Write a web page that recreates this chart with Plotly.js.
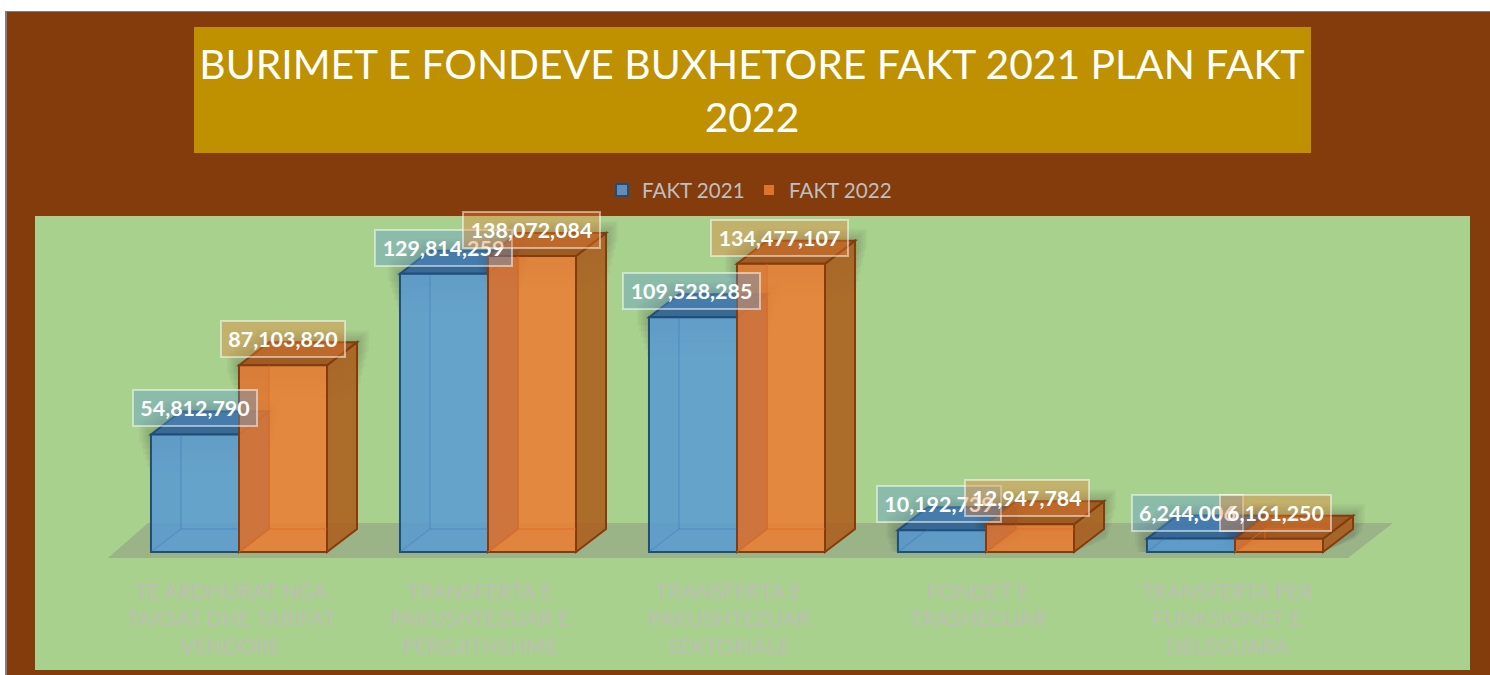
<!DOCTYPE html>
<html>
<head>
<meta charset="utf-8">
<script src="https://cdn.plot.ly/plotly-3.0.1.min.js"></script>
<style>
html,body{margin:0;padding:0;background:#fff;overflow:hidden}
#frame{position:absolute;left:5px;top:11px;border-left:2px solid #7f7f7f;border-top:1px solid #7f7f7f;width:1483px;height:663px}
#chart{width:1483px;height:663px}
</style>
</head>
<body>
<div id="frame"><div id="chart"></div></div>
<script>
const titleText = "BURIMET E FONDEVE BUXHETORE FAKT 2021 PLAN FAKT<br>2022";
const categories = [
  "TE ARDHURAT NGA<br>TAKSAT DHE TARIFAT<br>VENDORE",
  "TRANSFERTA E<br>PAKUSHTEZUAR E<br>PERGJITHSHME",
  "TRANSFERTA E<br>PAKUSHTEZUAR<br>SEKTORIALE",
  "FONDET E<br>TRASHEGUAR",
  "TRANSFERTA PER<br>FUNKSIONET E<br>DELEGUARA"
];
const fakt2021 = [54812790, 129814259, 109528285, 10192739, 6244006];
const fakt2022 = [87103820, 138072084, 134477107, 12947784, 6161250];

const positions = categories.map((_, i) => i);
// plot frame in page pixels
const L = 35, R = 1470, T = 216, B = 670, FX = 7, FY = 12, W = 1483, H = 663;
const pxX = 249, pxY = 2.144e-6;           // pixels per axis unit
const xRange = [(L - 239) / pxX, (R - 239) / pxX];
const yRange = [-(B - 552) / pxY, (552 - T) / pxY];
const barW = 88 / pxX;
const dx = 30 / pxX, dy = 23 / pxY;

const fmt = v => v.toLocaleString('en-US');
const poly = pts => 'M' + pts.map(p => p[0] + ',' + p[1]).join('L') + 'Z';
const line = pts => 'M' + pts.map(p => p[0] + ',' + p[1]).join('L');
const shape = (path, fill, stroke, w, layer) => ({type:'path', xref:'x', yref:'y', path,
  fillcolor: fill, line:{color: stroke, width: w}, layer: layer || 'below'});
const paperX = px => (px - L) / (R - L), paperY = py => (B - py) / (B - T);

const shapes = [];
// title band
shapes.push({type:'rect', xref:'paper', yref:'paper', x0:paperX(194), x1:paperX(1311),
  y0:paperY(153), y1:paperY(27), fillcolor:'#BF9000', line:{width:0}, layer:'below'});
// floor
const fy0 = -6 / pxY, fy1 = 29 / pxY;
shapes.push(shape(poly([[(108-239)/pxX,fy0],[(1348-239)/pxX,fy0],[(1393-239)/pxX,fy1],[(148-239)/pxX,fy1]]),
  'rgba(127,127,127,0.35)', 'rgba(0,0,0,0)', 0));

function addBox(x0, v, c) {
  const x1 = x0 + barW;
  // soft shadow round the top of the box, in fading layers
  [12, 10, 8, 6, 4, 2].forEach(g => {
    const gx = g / pxX, gy = g / pxY;
    const low = Math.max(v - (44 - 3 * g) / pxY, 0);
    const sideLow = Math.max(low + dy - (12 - g) / pxY, 0);
    shapes.push(shape(poly([[x0-gx,low],[x0-gx,v+gy],[x0+dx-gx,v+dy+gy],[x1+dx+gx,v+dy+gy],[x1+dx+gx,sideLow],[x1,low]]),
      'rgba(40,30,20,0.035)', 'rgba(0,0,0,0)', 0));
  });
  // top and side faces
  shapes.push(shape(poly([[x1,0],[x1+dx,dy],[x1+dx,v+dy],[x1,v]]), c.side, c.edge, 2));
  shapes.push(shape(poly([[x0,v],[x0+dx,v+dy],[x1+dx,v+dy],[x1,v]]), c.top, c.edge, 2));
}
function addInner(x0, v, c) {
  const x1 = x0 + barW;
  // rear wall seen through the front face
  shapes.push(shape(poly([[x0,0],[x0+dx,dy],[x0+dx,v],[x0,v]]), c.strip, 'rgba(0,0,0,0)', 0, 'above'));
  shapes.push(shape(line([[x0,0],[x0+dx,dy],[x0+dx,v]]), 'rgba(0,0,0,0)', c.inner, 1.5, 'above'));
  shapes.push(shape(line([[x0+dx,dy],[x1,dy]]), 'rgba(0,0,0,0)', c.inner, 1.5, 'above'));
}
const blue = {side:'rgba(52,100,150,0.9)', top:'rgba(50,100,150,0.92)', edge:'#1F4E79',
  inner:'rgba(46,117,182,0.3)', strip:'rgba(46,117,182,0.04)'};
const orange = {side:'rgba(172,95,30,0.88)', top:'rgba(160,85,30,0.92)', edge:'#843C0C',
  inner:'rgba(225,105,30,0.5)', strip:'rgba(160,70,30,0.09)'};
positions.forEach(i => { addBox(i - barW, fakt2021[i], blue); });
positions.forEach(i => { addBox(i, fakt2022[i], orange); });
positions.forEach(i => {
  addInner(i - barW, fakt2021[i], blue);
  addInner(i, fakt2022[i], orange);
});

const labelFont = {family:'Lato, Carlito, sans-serif', size:21.4, color:'#ffffff'};
function labels(values, off, bg) {
  return values.map((v, i) => {
    const s = fmt(v);
    return {
      x: i + off, y: v, xref:'x', yref:'y', yshift:26, xshift:-0.9 * i, showarrow:false,
      text:'<b>' + s + '</b>', font:labelFont, bgcolor:bg,
      bordercolor:'rgba(255,255,255,0.5)', borderwidth:2, borderpad:0,
      width:13 * s.length - 8, height:34, align:'center', valign:'middle'
    };
  });
}
const annotations = labels(fakt2021, -barW/2, 'rgba(91,155,213,0.38)')
  .concat(labels(fakt2022, barW/2, 'rgba(237,125,49,0.38)'));

const traces = [
  {type:'bar', name:'FAKT 2021', x:positions, y:fakt2021,
   marker:{color:'rgba(91,155,213,0.85)', line:{color:'#1F4E79', width:2}}},
  {type:'bar', name:'FAKT 2022', x:positions, y:fakt2022,
   marker:{color:'rgba(237,125,49,0.85)', line:{color:'#843C0C', width:2}}}
];

const layout = {
  width:W, height:H, autosize:false,
  margin:{l:L-FX, r:FX+W-R, t:T-FY, b:FY+H-B, pad:0},
  paper_bgcolor:'#843C0C', plot_bgcolor:'#A9D18E',
  font:{family:'Lato, Carlito, sans-serif'},
  title:{text:titleText, font:{family:'Lato, Carlito, sans-serif', size:40.8, color:'#ffffff'},
    x:(752-FX)/W, xanchor:'center', y:1-(79-FY)/H, yanchor:'middle'},
  barmode:'group', bargap:0.293, bargroupgap:0,
  xaxis:{type:'linear', range:xRange, tickmode:'array', tickvals:positions.map(i => i - 8 / pxX), ticktext:categories,
    anchor:'free', position:paperY(577), showgrid:false, zeroline:false, showline:false, ticks:'',
    tickangle:0, tickfont:{family:'Lato, Carlito, sans-serif', size:21, color:'#BDBFB2'}, fixedrange:true},
  yaxis:{range:yRange, visible:false, showgrid:false, zeroline:false, fixedrange:true},
  legend:{orientation:'h', x:paperX(602), xanchor:'left', y:paperY(170), yanchor:'top',
    font:{family:'Lato, Carlito, sans-serif', size:20.6, color:'#BFBFBF'}, bgcolor:'rgba(0,0,0,0)',
    entrywidth:102, entrywidthmode:'pixels'},
  shapes, annotations
};
Plotly.newPlot('chart', traces, layout, {displayModeBar:false, staticPlot:true});
</script>
</body>
</html>
